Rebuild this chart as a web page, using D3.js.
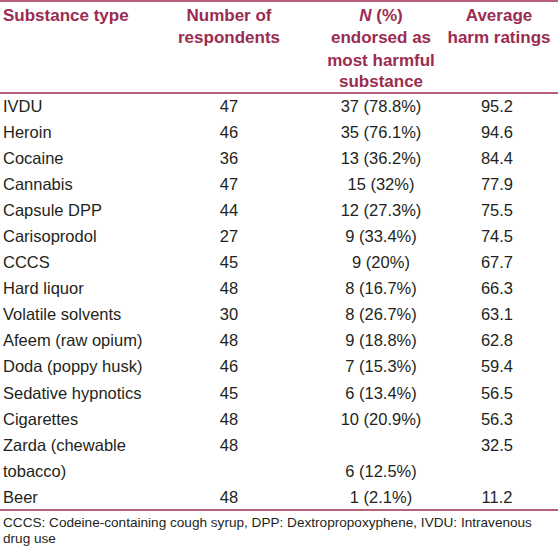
<!DOCTYPE html>
<html><head><meta charset="utf-8">
<script src="https://cdn.jsdelivr.net/npm/d3@7"></script>
<style>body{margin:0;background:#fff}text{font-family:"Liberation Sans",Arial,sans-serif}</style>
</head><body><svg id="c" width="558" height="548"></svg>
<script>
const substances=["IVDU","Heroin","Cocaine","Cannabis","Capsule DPP","Carisoprodol","CCCS","Hard liquor","Volatile solvents","Afeem (raw opium)","Doda (poppy husk)","Sedative hypnotics","Cigarettes","Zarda (chewable|tobacco)","Beer"];
const respondents=[47,46,36,47,44,27,45,48,30,48,46,45,48,48,48];
const endorsed=["37 (78.8%)","35 (76.1%)","13 (36.2%)","15 (32%)","12 (27.3%)","9 (33.4%)","9 (20%)","8 (16.7%)","8 (26.7%)","9 (18.8%)","7 (15.3%)","6 (13.4%)","10 (20.9%)","6 (12.5%)","1 (2.1%)"];
const harm=["95.2","94.6","84.4","77.9","75.5","74.5","67.7","66.3","63.1","62.8","59.4","56.5","56.3","32.5","11.2"];
const footnote=["CCCS: Codeine-containing cough syrup, DPP: Dextropropoxyphene, IVDU: Intravenous","drug use"];

const svg=d3.select("#c"), maroon="#9b2c50", ink="#231f20";
const col={n:229,e:381,h:497};
const hdr=[
 {x:3,a:"start",lines:["Substance type"]},
 {x:col.n,a:"middle",lines:["Number of","respondents"]},
 {x:col.e,a:"middle",lines:["<i>N</i> (%)","endorsed as","most harmful","substance"]},
 {x:col.h+2,a:"middle",lines:["Average","harm ratings"]}];
const hy=[15,37,60,81];
hdr.forEach(h=>h.lines.forEach((l,i)=>{
  const t=svg.append("text").attr("x",h.x).attr("y",hy[i]).attr("dy","0.35em").attr("text-anchor",h.a)
   .attr("fill",maroon).attr("font-weight","bold").attr("font-size",17);
  if(l.startsWith("<i>")){t.append("tspan").attr("font-style","italic").text("N");t.append("tspan").text(" (%)");}
  else t.text(l);
}));
const line=y=>svg.append("line").attr("x1",0).attr("x2",558).attr("y1",y).attr("y2",y).attr("stroke",maroon).attr("stroke-width",1.3);
line(1);line(93);line(510);
const slotY=d3.scaleLinear().domain([0,15]).range([106,497]);
let slot=0;
substances.forEach((s,i)=>{
  const parts=s.split("|"), y=slotY(slot);
  const g=svg.append("g").attr("font-size",16.5).attr("fill",ink);
  parts.forEach((p,k)=>g.append("text").attr("x",3).attr("y",slotY(slot+k)).attr("dy","0.35em").text(p));
  g.append("text").attr("x",col.n).attr("y",y).attr("dy","0.35em").attr("text-anchor","middle").text(respondents[i]);
  g.append("text").attr("x",col.e).attr("y",slotY(slot+parts.length-1)).attr("dy","0.35em").attr("text-anchor","middle").text(endorsed[i]);
  g.append("text").attr("x",col.h).attr("y",y).attr("dy","0.35em").attr("text-anchor","middle").text(harm[i]);
  slot+=parts.length;
});
footnote.forEach((f,i)=>svg.append("text").attr("x",3).attr("y",522+i*16).attr("dy","0.35em")
  .attr("font-size",13.6).attr("fill",ink).text(f));
</script></body></html>
